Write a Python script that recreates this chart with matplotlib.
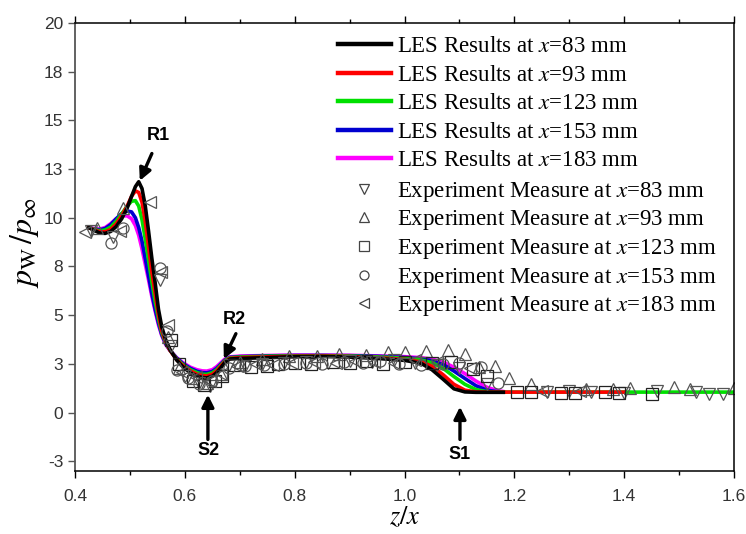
import matplotlib
matplotlib.use("Agg")
import matplotlib.pyplot as plt
from matplotlib.lines import Line2D
from matplotlib.ticker import FixedLocator, MultipleLocator

plt.rcParams['font.family'] = ['Liberation Sans', 'DejaVu Sans']
plt.rcParams['mathtext.fontset'] = 'stix'

# LES wall pressure along z/x (shared stations up to 1.18)
z_les = [0.425, 0.435, 0.445, 0.455, 0.465, 0.475, 0.485, 0.495, 0.503, 0.510,
         0.516, 0.522, 0.528, 0.534, 0.540, 0.546, 0.552, 0.558, 0.565, 0.573,
         0.585, 0.597, 0.610, 0.622, 0.632, 0.640, 0.650, 0.658, 0.666, 0.673,
         0.682, 0.70, 0.75, 0.80, 0.85, 0.90, 0.95, 1.00, 1.03, 1.05,
         1.07, 1.09, 1.11, 1.13, 1.15, 1.17, 1.18]

p_les83 = [9.5, 9.35, 9.22, 9.2, 9.3, 9.55, 9.95, 10.5, 11.1, 11.6,
           11.85, 11.5, 10.6, 9.3, 7.9, 6.65, 5.3, 4.4, 3.75, 3.23,
           2.7, 2.33, 2.05, 1.88, 1.8, 1.78, 1.86, 2.05, 2.32, 2.58,
           2.75, 2.78, 2.82, 2.87, 2.88, 2.85, 2.78, 2.68, 2.53, 2.2,
           1.72, 1.22, 1.06, 1.04, 1.04, 1.04, 1.04]
p_les93 = [9.5, 9.38, 9.28, 9.28, 9.4, 9.68, 10.1, 10.6, 11.1, 11.38,
           11.3, 10.8, 9.8, 8.5, 7.2, 6.1, 5.0, 4.2, 3.65, 3.2,
           2.72, 2.4, 2.14, 1.97, 1.9, 1.88, 1.96, 2.14, 2.4, 2.63,
           2.78, 2.82, 2.86, 2.89, 2.9, 2.88, 2.82, 2.73, 2.6, 2.38,
           1.95, 1.45, 1.15, 1.06, 1.05, 1.05, 1.05]
p_les123 = [9.5, 9.4, 9.33, 9.37, 9.52, 9.82, 10.2, 10.6, 10.85, 10.88,
            10.6, 9.9, 8.9, 7.8, 6.7, 5.7, 4.8, 4.1, 3.6, 3.2,
            2.75, 2.45, 2.2, 2.05, 1.97, 1.96, 2.04, 2.2, 2.45, 2.67,
            2.81, 2.85, 2.89, 2.91, 2.92, 2.9, 2.86, 2.79, 2.7, 2.56,
            2.28, 1.85, 1.45, 1.18, 1.07, 1.05, 1.05]
p_les153 = [9.5, 9.42, 9.38, 9.45, 9.65, 9.95, 10.22, 10.35, 10.3, 10.0,
            9.5, 8.8, 7.9, 7.0, 6.1, 5.3, 4.6, 4.0, 3.55, 3.2,
            2.8, 2.5, 2.27, 2.12, 2.05, 2.04, 2.11, 2.27, 2.5, 2.7,
            2.83, 2.87, 2.91, 2.93, 2.93, 2.92, 2.89, 2.83, 2.76, 2.66,
            2.47, 2.13, 1.75, 1.38, 1.15, 1.07, 1.06]
p_les183 = [9.5, 9.45, 9.42, 9.5, 9.7, 9.95, 10.1, 10.1, 9.95, 9.6,
            9.1, 8.4, 7.6, 6.8, 5.95, 5.2, 4.5, 3.95, 3.5, 3.18,
            2.82, 2.55, 2.33, 2.2, 2.14, 2.13, 2.2, 2.36, 2.57, 2.75,
            2.86, 2.9, 2.93, 2.95, 2.95, 2.94, 2.91, 2.87, 2.82, 2.74,
            2.6, 2.33, 2.0, 1.62, 1.3, 1.12, 1.08]

# downstream tails of the x=93 and x=123 runs
z_tail93 = [1.25, 1.30, 1.40]
p_tail93 = [1.05, 1.05, 1.05]
z_tail123 = [1.25, 1.40, 1.50, 1.60]
p_tail123 = [1.05, 1.05, 1.05, 1.05]

# experiment
z_exp83 = [0.43, 0.47, 0.555, 0.575, 0.60, 0.625, 0.645, 0.68, 0.71, 0.74, 0.78,
           0.82, 0.86, 0.90, 0.94, 0.98, 1.02, 1.06, 1.10, 1.15, 1.26, 1.30,
           1.34, 1.40, 1.46, 1.53, 1.555, 1.58]
p_exp83 = [9.3, 9.0, 6.8, 3.4, 1.9, 1.5, 1.35, 2.45, 2.4, 2.5, 2.55,
           2.6, 2.55, 2.65, 2.6, 2.7, 2.55, 2.45, 2.3, 1.45, 1.08, 1.1,
           1.05, 1.0, 1.1, 1.05, 0.95, 0.95]
z_exp93 = [0.44, 0.488, 0.57, 0.59, 0.615, 0.64, 0.665, 0.70, 0.74, 0.79,
           0.84, 0.88, 0.93, 0.97, 1.00, 1.04, 1.08, 1.11, 1.135, 1.165, 1.19,
           1.23, 1.33, 1.38, 1.41, 1.49, 1.52, 1.60]
p_exp93 = [9.45, 10.5, 3.9, 2.3, 1.8, 1.5, 2.0, 2.6, 2.75, 2.9,
           2.9, 3.0, 2.95, 3.1, 3.1, 3.15, 3.2, 3.0, 2.35, 2.4, 1.8,
           1.45, 1.2, 1.2, 1.25, 1.3, 1.2, 1.25]
z_exp123 = [0.575, 0.59, 0.615, 0.635, 0.655, 0.668, 0.69, 0.72, 0.75, 0.77,
            0.80, 0.83, 0.87, 0.90, 0.93, 0.96, 1.00, 1.05, 1.085, 1.125, 1.15,
            1.205, 1.23, 1.285, 1.31, 1.365, 1.39, 1.45]
p_exp123 = [3.7, 2.5, 1.6, 1.4, 1.6, 1.9, 2.45, 2.35, 2.4, 2.5,
            2.55, 2.5, 2.6, 2.55, 2.65, 2.5, 2.6, 2.55, 2.6, 2.25, 1.9,
            1.05, 1.05, 1.02, 1.03, 1.05, 0.98, 0.95]
z_exp153 = [0.465, 0.487, 0.555, 0.568, 0.585, 0.605, 0.625, 0.65, 0.68, 0.71,
            0.745, 0.78, 0.82, 0.85, 0.89, 0.925, 0.955, 0.99, 1.03, 1.07,
            1.10, 1.14, 1.17]
p_exp153 = [8.7, 9.5, 7.4, 4.2, 2.2, 1.75, 1.45, 1.6, 2.3, 2.4,
            2.45, 2.5, 2.55, 2.5, 2.6, 2.55, 2.65, 2.5, 2.45, 2.5,
            2.55, 2.35, 1.5]
z_exp183 = [0.418, 0.482, 0.537, 0.556, 0.57, 0.595, 0.62, 0.645, 0.665, 0.695,
            0.73, 0.76, 0.795, 0.835, 0.875, 0.91, 0.945, 0.98, 1.02, 1.06,
            1.12, 1.25, 1.32]
p_exp183 = [9.25, 9.3, 10.8, 7.2, 4.5, 2.1, 1.85, 1.6, 2.0, 2.4,
            2.5, 2.45, 2.55, 2.6, 2.55, 2.65, 2.6, 2.55, 2.7, 2.6,
            2.3, 1.1, 1.1]

stations = ['83', '93', '123', '153', '183']
les_colors = ['black', '#ff0000', '#00e000', '#0000d0', '#ff00ff']
exp_markers = ['v', '^', 's', 'o', '<']

ytick_vals = [-2.5, 0, 2.5, 5, 7.5, 10, 12.5, 15, 17.5, 20]
ytick_labels = ['-3', '0', '3', '5', '8', '10', '13', '15', '18', '20']

fig = plt.figure(figsize=(7.46, 5.34), dpi=100)
ax = fig.add_axes([75/746, 63/534, 659/746, 448/534])

lw = 2.6
ax.plot(z_les, p_les183, color=les_colors[4], lw=lw)
ax.plot(z_les, p_les153, color=les_colors[3], lw=lw)
ax.plot(z_les + z_tail123, p_les123 + p_tail123, color=les_colors[2], lw=lw)
ax.plot(z_les + z_tail93, p_les93 + p_tail93, color=les_colors[1], lw=lw)
ax.plot(z_les, p_les83, color=les_colors[0], lw=lw)

exp_sets = [(z_exp83, p_exp83), (z_exp93, p_exp93), (z_exp123, p_exp123),
            (z_exp153, p_exp153), (z_exp183, p_exp183)]
for (zz, pp), mk in zip(exp_sets, exp_markers):
    ec = '#222222' if mk == 's' else '#555555'
    ax.plot(zz, pp, ls='none', marker=mk, ms=8, mfc='none', mec=ec, mew=0.9)

# legends: LES lines first, experiment markers below
leg_kw = dict(loc='upper left', frameon=False, borderpad=0, borderaxespad=0,
              handlelength=2.3, handletextpad=0.26,
              prop={'family': 'Liberation Serif', 'size': 16.5})
les_handles = [Line2D([], [], color=c, lw=3.2) for c in les_colors]
les_labels = ['LES Results at $x$=%s mm' % st for st in stations]
leg1 = ax.legend(les_handles, les_labels, bbox_to_anchor=(0.399, 0.971),
                 labelspacing=0.33, **leg_kw)
ax.add_artist(leg1)

exp_handles = [Line2D([], [], ls='none', marker=mk, ms=6.5, mfc='none',
                      mec='#444444', mew=0.9) for mk in exp_markers]
exp_labels = ['Experiment Measure at $x$=%s mm' % st for st in stations]
ax.legend(exp_handles, exp_labels, bbox_to_anchor=(0.399, 0.650),
          labelspacing=0.2, **leg_kw)

# annotations
arr = dict(arrowstyle='-|>', lw=2.4, color='black', mutation_scale=18,
           shrinkA=0, shrinkB=0)
ann_font = dict(fontsize=13, fontweight='bold', ha='center', va='center')
ax.annotate('', xy=(0.518, 11.9), xytext=(0.540, 13.3), arrowprops=arr)
ax.text(0.551, 14.25, 'R1', **ann_font)
ax.annotate('', xy=(0.671, 2.75), xytext=(0.693, 4.05), arrowprops=arr)
ax.text(0.690, 4.8, 'R2', **ann_font)
ax.annotate('', xy=(0.642, 0.92), xytext=(0.642, -1.38), arrowprops=arr)
ax.text(0.644, -1.95, 'S2', **ann_font)
ax.annotate('', xy=(1.101, 0.3), xytext=(1.101, -1.38), arrowprops=arr)
ax.text(1.101, -2.15, 'S1', **ann_font)

ax.set_xlim(0.4, 1.6)
ax.set_ylim(-3, 20)
ax.xaxis.set_major_locator(MultipleLocator(0.2))
ax.xaxis.set_minor_locator(MultipleLocator(0.1))
ax.yaxis.set_major_locator(FixedLocator(ytick_vals))
ax.set_yticklabels(ytick_labels)
ax.tick_params(axis='x', which='both', direction='out', top=True, labeltop=False,
               labelsize=12.5, labelcolor='#333333', pad=8)
ax.tick_params(axis='x', which='major', length=5, width=1)
ax.tick_params(axis='x', which='minor', length=3, width=1)
ax.tick_params(axis='y', which='major', direction='out', length=5, width=1,
               labelsize=12.5, labelcolor='#333333', right=False, color='#555555')
for side in ['top', 'right', 'bottom']:
    ax.spines[side].set_linewidth(1.1)
ax.spines['left'].set_color('#555555')
ax.spines['left'].set_linewidth(1.3)

ax.set_xlabel('$z/x$', fontsize=19)
ax.xaxis.set_label_coords(0.5, -0.075)
ax.set_ylabel(r'$p_{\mathrm{W}}\,/p_{\infty}$', fontsize=23)
ax.yaxis.set_label_coords(-0.052, 0.51)

fig.savefig('out.png', dpi=100)
